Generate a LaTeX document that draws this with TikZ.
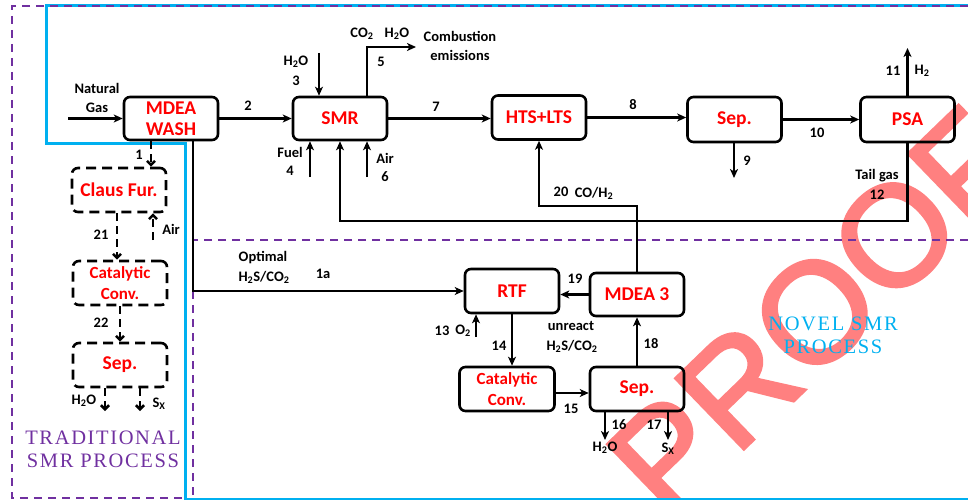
\documentclass[tikz,border=0pt]{standalone}
\usepackage{fontspec}
\setsansfont{Carlito}
\newfontfamily\wmfont[FakeBold=2.5]{Liberation Sans}
\newfontfamily\titlefont[LetterSpace=8]{Liberation Serif}
\usetikzlibrary{arrows.meta}
\definecolor{cred}{RGB}{255,0,0}
\definecolor{cpurple}{RGB}{112,48,160}
\definecolor{cblue}{RGB}{0,176,240}
\definecolor{csalmon}{RGB}{255,128,128}
\newcommand\sbs[1]{\textsubscript{#1}}
\begin{document}
\begin{tikzpicture}[x=1pt,y=-1pt,
  unit/.style={draw, line width=2.6pt, rounded corners=6pt, minimum width=94pt, minimum height=43pt,
    inner sep=0pt, align=center, text=cred, font=\sffamily\bfseries\fontsize{19.5}{21}\selectfont},
  dunit/.style={unit, dash pattern=on 10pt off 6pt},
  smallfont/.style={font=\sffamily\bfseries\fontsize{17}{21}\selectfont},
  lbl/.style={font=\sffamily\bfseries\fontsize{14.5}{19}\selectfont, inner sep=0pt, align=center},
  ttl/.style={font=\titlefont\fontsize{20.5}{23}\selectfont, align=center, inner sep=0pt},
  arr/.style={line width=2.5pt, -{Stealth[length=9pt,width=8pt,inset=2.5pt]}},
  darr/.style={line width=2.6pt, dash pattern=on 8pt off 5pt, -{Straight Barb[length=4pt,width=8pt]}},
  pline/.style={cpurple, line width=2.2pt, dash pattern=on 8pt off 6pt},
  bline/.style={cblue, line width=3pt}
]
\useasboundingbox (0,0) rectangle (968,500);
% watermark
\node[rotate=44, text=csalmon, font=\wmfont\fontsize{142}{142}\selectfont, inner sep=0pt] (wm) at (815,312) {PROOF};

% frames
\draw[bline] (968,6) -- (46,6) -- (46,143) -- (185,143) -- (185,499) -- (968,499);
\draw[pline] (968,6) -- (12,6) -- (12,498) -- (185,498);
\draw[pline] (968,240) -- (193,240) -- (193,498);

% section titles
\node[ttl, text=cpurple] (trad) at (103,449) {TRADITIONAL\\SMR PROCESS};
\node[ttl, text=cblue] (novel) at (833,335) {NOVEL SMR\\PROCESS};

% units
\node[unit] (wash) at (171,118.5) {MDEA\\WASH};
\node[unit] (smr) at (340,118.5) {SMR};
\node[unit, minimum height=44pt] (hts) at (539,117.5) {HTS+LTS};
\node[unit, minimum height=45pt] (sep1) at (734.5,119.5) {Sep.};
\node[unit, minimum height=45pt] (psa) at (907.5,119.5) {PSA};
\node[dunit, minimum height=44pt] (claus) at (119,190) {Claus Fur.};
\node[dunit, smallfont, minimum height=44pt] (cat1) at (120,283) {Catalytic\\Conv.};
\node[dunit, minimum height=44pt] (sep2) at (120,365) {Sep.};
\node[unit, minimum height=44pt] (rtf) at (512,291) {RTF};
\node[unit] (mdea3) at (637,294.5) {MDEA 3};
\node[unit, smallfont, minimum width=95pt, minimum height=44pt] (cat2) at (507,389) {Catalytic\\Conv.};
\node[unit, minimum height=44pt] (sep3) at (637,389) {Sep.};

% helper coordinates
\coordinate (ng) at (68,118.5);
\coordinate (x151) at (151,0);
\coordinate (x193) at (193,0);
\coordinate (x367) at (367,0);
\coordinate (h2oin) at (319,53);
\coordinate (comb) at (416,47);
\coordinate (fuel) at (310,177);
\coordinate (air) at (367,177);
\coordinate (nine) at (734,178);
\coordinate (h2out) at (907.5,48);
\coordinate (tailY) at (0,221);
\coordinate (y206) at (0,206);
\coordinate (o2) at (476,337);
\coordinate (y393) at (0,393);
\coordinate (w16) at (605,440);
\coordinate (w17) at (668,440);
\coordinate (x117) at (117,0);
\coordinate (airc) at (153,240);
\coordinate (x120) at (120,0);
\coordinate (wh2o) at (105,411);
\coordinate (wsx) at (140,411);

% top line connectors
\draw[arr] (ng) -- (wash.west);
\draw[arr] (wash.east) -- (smr.west);
\draw[arr] (h2oin) -- (h2oin |- smr.north);
\draw[arr] (smr.north -| x367) |- (comb);
\draw[arr] (fuel) -- (fuel |- smr.south);
\draw[arr] (air) -- (air |- smr.south);
\draw[arr] (smr.east) -- (smr.east -| hts.west);
\draw[arr] (hts.east) -- (hts.east -| sep1.west);
\draw[arr] (sep1.south -| nine) -- (nine);
\draw[arr] (sep1.east) -- (psa.west);
\draw[arr] (psa.north) -- (h2out);
\draw[arr] (psa.south) -- (psa.south |- tailY) -| (smr.south);
\draw[arr] (mdea3.north) -- (mdea3.north |- y206) -| (hts.south);
\draw[arr] (wash.south -| x193) |- (rtf.west);

% novel section
\draw[arr] (mdea3.west) -- (mdea3.west -| rtf.east);
\draw[arr] (o2) -- (o2 |- rtf.south);
\draw[arr] (rtf.south) -- (rtf.south |- cat2.north);
\draw[arr] (cat2.east |- y393) -- (sep3.west |- y393);
\draw[arr] (sep3.north) -- (mdea3.south);
\draw[arr] (sep3.south -| w16) -- (w16);
\draw[arr] (sep3.south -| w17) -- (w17);

% traditional section
\draw[darr] (wash.south -| x151) -- (claus.north -| x151);
\draw[darr] (claus.south -| x117) -- (cat1.north -| x117);
\draw[darr] (airc) -- (airc |- claus.south);
\draw[darr] (cat1.south -| x120) -- (sep2.north -| x120);
\draw[darr] (sep2.south -| wh2o) -- (wh2o);
\draw[darr] (sep2.south -| wsx) -- (wsx);

% labels
\node[lbl] (lng) at (97,97.5) {Natural\\Gas};
\node[lbl] (l2) at (248,106) {2};
\node[lbl] (l1) at (139,155) {1};
\node[lbl] (lh2o3) at (296,62) {H\sbs{2}O};
\node[lbl] (l3) at (296,81) {3};
\node[lbl] (lco2) at (362,34) {CO\sbs{2}};
\node[lbl] (lh2o5) at (397,34) {H\sbs{2}O};
\node[lbl] (l5) at (381,62) {5};
\node[lbl] (lcomb) at (460,46) {Combustion\\emissions};
\node[lbl] (lfuel) at (290,152) {Fuel};
\node[lbl] (l4) at (290,171) {4};
\node[lbl] (lair) at (385,158) {Air};
\node[lbl] (l6) at (385,177) {6};
\node[lbl] (l7) at (436,107) {7};
\node[lbl] (l8) at (633,105) {8};
\node[lbl] (l9) at (747,161) {9};
\node[lbl] (l10) at (817,133) {10};
\node[lbl] (l11) at (893,71) {11};
\node[lbl] (lh2) at (922,71) {H\sbs{2}};
\node[lbl] (ltail) at (877,176) {Tail gas};
\node[lbl] (l12) at (877,195) {12};
\node[lbl] (l20) at (561,192) {20};
\node[lbl] (lcoh2) at (594,193) {CO/H\sbs{2}};
\node[lbl] (lopt) at (263,258) {Optimal};
\node[lbl] (lh2sco2a) at (264,277) {H\sbs{2}S/CO\sbs{2}};
\node[lbl] (l1a) at (323,274) {1a};
\node[lbl] (l13) at (442,331) {13};
\node[lbl] (lo2) at (463,331) {O\sbs{2}};
\node[lbl] (l14) at (499,346) {14};
\node[lbl] (l19) at (575,279) {19};
\node[lbl] (lunr) at (571,326) {unreact};
\node[lbl] (lh2sco2b) at (572,346) {H\sbs{2}S/CO\sbs{2}};
\node[lbl] (l18) at (651,344) {18};
\node[lbl] (l15) at (571,409) {15};
\node[lbl] (l16) at (619,425) {16};
\node[lbl] (l17) at (654,425) {17};
\node[lbl] (lh2o16) at (605,448) {H\sbs{2}O};
\node[lbl] (lsx17) at (668,449) {S\sbs{X}};
\node[lbl] (l21) at (101,235) {21};
\node[lbl] (lair2) at (171,229) {Air};
\node[lbl] (l22) at (101,323) {22};
\node[lbl] (lh2o2) at (84,401) {H\sbs{2}O};
\node[lbl] (lsx2) at (159,404) {S\sbs{X}};
\end{tikzpicture}
\end{document}
